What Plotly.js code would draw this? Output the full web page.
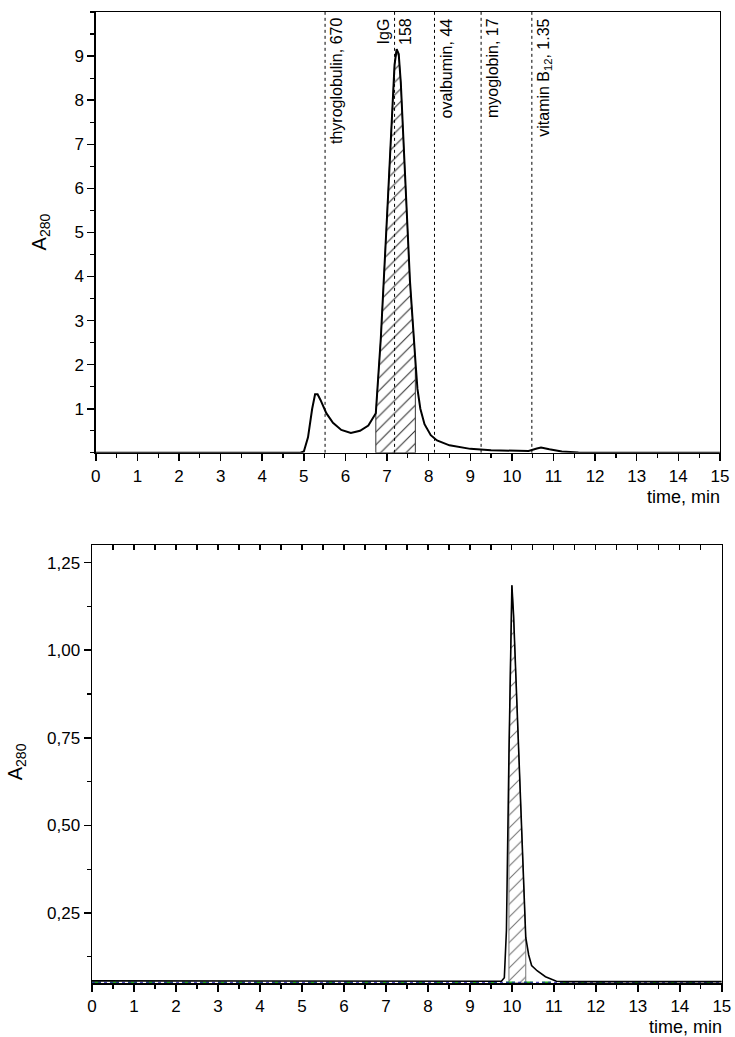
<!DOCTYPE html>
<html>
<head>
<meta charset="utf-8">
<script src="https://cdn.plot.ly/plotly-3.0.1.min.js"></script>
<style>body{margin:0;background:#fff}#chart{width:735px;height:1037px}</style>
</head>
<body>
<div id="chart"></div>
<script>
// top chromatogram (standards run)
const topTime = [0, 4.9, 5.0, 5.1, 5.2, 5.27, 5.33, 5.4, 5.54, 5.7, 5.9, 6.13, 6.35, 6.55, 6.73, 6.85, 7.02, 7.12, 7.18, 7.23, 7.28, 7.33, 7.45, 7.55, 7.68, 7.73, 7.8, 7.9, 8.05, 8.2, 8.5, 9.0, 9.5, 10.0, 10.4, 10.6, 10.7, 10.9, 11.2, 11.6, 12.0, 15]
const topA = [0, 0, 0.03, 0.35, 1.0, 1.33, 1.33, 1.2, 0.9, 0.68, 0.52, 0.45, 0.5, 0.62, 0.9, 2.6, 5.75, 7.8, 8.8, 9.16, 9.05, 8.4, 5.9, 3.9, 2.1, 1.45, 1.0, 0.65, 0.4, 0.28, 0.17, 0.09, 0.06, 0.05, 0.04, 0.1, 0.12, 0.08, 0.03, 0.01, 0, 0]
const topHatch = [6.73, 7.68]

// bottom chromatogram (sample)
const botTime = [0, 0.65, 0.7, 9.75, 9.82, 9.87, 9.93, 9.97, 10.0, 10.04, 10.15, 10.25, 10.33, 10.4, 10.47, 10.6, 10.8, 11.06, 11.3, 15]
const botA = [0.056, 0.056, 0.054, 0.055, 0.065, 0.2, 0.7, 1.0, 1.185, 1.1, 0.75, 0.4, 0.18, 0.13, 0.1, 0.085, 0.068, 0.055, 0.054, 0.054]
const botHatch = [9.93, 10.33]
const botBase = 0.05

const markers = [
  { x: 5.51, text: 'thyroglobulin, 670', side: 'r' },
  { x: 7.18, text: 'IgG', side: 'l' },
  { x: 7.18, text: '158', side: 'r' },
  { x: 8.14, text: 'ovalbumin, 44', side: 'r' },
  { x: 9.26, text: 'myoglobin, 17', side: 'r' },
  { x: 10.48, text: 'vitamin B<sub>12</sub>, 1.35', side: 'r' },
]

function hatchTrace(xs, ys, lo, hi, base, xa, ya, color) {
  const hx = [], hy = []
  xs.forEach((t, i) => { if (t >= lo && t <= hi) { hx.push(t); hy.push(ys[i]) } })
  return {
    x: [lo, ...hx, hi, lo], y: [base, ...hy, base, base],
    xaxis: xa, yaxis: ya, mode: 'lines', fill: 'toself',
    fillcolor: 'rgba(0,0,0,0)',
    fillpattern: { shape: '/', fgcolor: color, bgcolor: 'white', size: 9, solidity: 0.12 },
    line: { color: color, width: 1 }, hoverinfo: 'skip'
  }
}

const data = [
  hatchTrace(topTime, topA, topHatch[0], topHatch[1], 0, 'x', 'y', '#333'),
  { x: topTime, y: topA, xaxis: 'x', yaxis: 'y', mode: 'lines', line: { color: '#000', width: 2 } },
  ...markers.filter(m => m.side === 'r').map(m => ({
    x: [m.x, m.x], y: [0, 10], xaxis: 'x', yaxis: 'y', mode: 'lines',
    line: { color: '#000', width: 1, dash: 'dot' }, hoverinfo: 'skip'
  })),
  hatchTrace(botTime, botA, botHatch[0], botHatch[1], botBase, 'x2', 'y2', '#777'),
  { x: [0, 15], y: [botBase + 0.002, botBase + 0.002], xaxis: 'x2', yaxis: 'y2', mode: 'lines', line: { color: '#2a2', width: 1.5, dash: 'dash' } },
  { x: [0, 15], y: [botBase + 0.002, botBase + 0.002], xaxis: 'x2', yaxis: 'y2', mode: 'lines', line: { color: '#22a', width: 1, dash: 'dot' } },
  { x: botTime, y: botA, xaxis: 'x2', yaxis: 'y2', mode: 'lines', line: { color: '#000', width: 1.6 } },
]

const minorT = { ticks: 'outside', ticklen: 4, tickwidth: 1.2, tickcolor: '#000' }
const ax = (extra) => Object.assign({
  showgrid: false, zeroline: false, showline: true, linecolor: '#000', linewidth: 1.5,
  ticks: 'outside', ticklen: 7, tickwidth: 1.5, tickcolor: '#000',
  tickfont: { family: 'Liberation Sans', size: 17, color: '#000' }, mirror: true, fixedrange: true
}, extra)

const layout = {
  width: 735, height: 1037, showlegend: false,
  paper_bgcolor: '#fff', plot_bgcolor: '#fff',
  font: { family: 'Liberation Sans', size: 16, color: '#000' },
  margin: { l: 92, r: 10, t: 12, b: 54 },
  xaxis: ax({ domain: [0.006, 0.992], range: [0, 15], dtick: 1, anchor: 'y', minor: Object.assign({ dtick: 0.5 }, minorT) }),
  yaxis: ax({ domain: [0.546, 1], range: [0, 10], tickvals: [1, 2, 3, 4, 5, 6, 7, 8, 9], anchor: 'x', minor: Object.assign({ dtick: 0.5 }, minorT) }),
  xaxis2: ax({ domain: [0, 0.995], range: [0, 15], tickvals: [0, 1, 2, 3, 4, 5, 6, 7, 8, 9, 10, 11, 12, 13, 14, 15], anchor: 'y2', minor: Object.assign({ dtick: 0.5 }, minorT) }),
  yaxis2: ax({ domain: [0, 0.451], range: [0.05, 1.3], tickvals: [0.25, 0.5, 0.75, 1.0, 1.25], ticktext: ['0,25', '0,50', '0,75', '1,00', '1,25'], anchor: 'x2', minor: Object.assign({ tickvals: [0.125, 0.375, 0.625, 0.875, 1.125] }, minorT) }),
  xaxis3: { overlaying: 'x2', side: 'top', anchor: 'y2', range: [0, 15], dtick: 0.5, showticklabels: false, ticks: 'inside', ticklen: 5, tickwidth: 1.2, tickcolor: '#000', showgrid: false, zeroline: false, showline: false },
  annotations: [
    ...markers.map(m => ({
      x: m.x, y: 9.9, xref: 'x', yref: 'y', text: m.text, textangle: -90, showarrow: false,
      xanchor: m.side === 'r' ? 'left' : 'right', yanchor: 'top', xshift: m.side === 'r' ? 1 : -1,
      font: { size: 16, color: '#000' }
    })),
    { x: 15, y: 0, xref: 'x', yref: 'y', text: 'time, min', showarrow: false, xanchor: 'right', yanchor: 'top', yshift: -32, xshift: 2, font: { size: 18 } },
    { x: 15, y: 0.05, xref: 'x2', yref: 'y2', text: 'time, min', showarrow: false, xanchor: 'right', yanchor: 'top', yshift: -32, xshift: 2, font: { size: 18 } },
    { x: 0, y: 5, xref: 'paper', yref: 'y', text: 'A<sub>280</sub>', textangle: -90, showarrow: false, xanchor: 'center', xshift: -52, font: { size: 20 } },
    { x: 0, y: 0.68, xref: 'paper', yref: 'y2', text: 'A<sub>280</sub>', textangle: -90, showarrow: false, xanchor: 'center', xshift: -76, font: { size: 20 } },
  ]
}
// invisible trace so the top ticks of the lower chart are drawn
data.push({ x: [0, 15], y: [0.05, 0.05], xaxis: 'x3', yaxis: 'y2', mode: 'lines', line: { width: 0 }, hoverinfo: 'skip' })

Plotly.newPlot('chart', data, layout, { displayModeBar: false, staticPlot: true })
</script>
</body>
</html>
